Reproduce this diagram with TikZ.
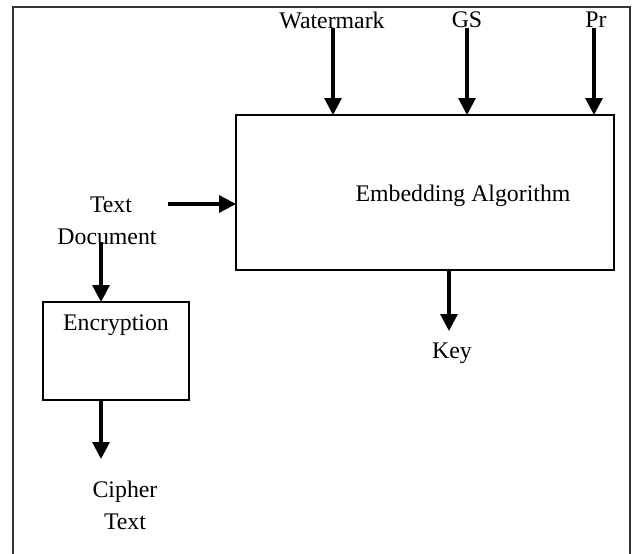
\documentclass[tikz,border=0pt]{standalone}
\usepackage{fontspec}
\setmainfont{Liberation Serif}
\usetikzlibrary{arrows.meta}
\begin{document}
\begin{tikzpicture}[x=1pt,y=-1pt,
  lbl/.style={font=\fontsize{23.8}{27}\selectfont, inner sep=0pt, align=center},
  boxst/.style={draw, line width=2pt},
  arr/.style={line width=3.2pt, -{Triangle[length=17pt,width=17pt]}, shorten >=-1pt}]
\useasboundingbox (0,0) rectangle (633,554);
\draw[line width=1.6pt, black!80] (13,554) -- (13,7) -- (630,7) -- (630,554);
% embedding box
\node[boxst, minimum width=378pt, minimum height=155pt, inner sep=0pt] (emb) at (425,192.5) {};
\node[lbl] (embt) at (463,196) {Embedding Algorithm};
% inputs
\node[lbl] (wm) at (332,20) {Watermark};
\node[lbl] (gs) at (467,20) {GS};
\node[lbl] (pr) at (596,20) {Pr};
\coordinate (wmS) at (333,28);
\coordinate (gsS) at (467,28);
\coordinate (prS) at (594,28);
\draw[arr] (wmS) -- (wmS |- emb.north);
\draw[arr] (gsS) -- (gsS |- emb.north);
\draw[arr] (prS) -- (prS |- emb.north);
% text document
\node[lbl] (tdA) at (111,205) {Text};
\node[lbl] (tdB) at (107,237) {Document};
\coordinate (tdR) at (168,204);
\draw[arr] (tdR) -- (tdR -| emb.west);
% key
\coordinate (keyS) at (449,270);
\coordinate (keyE) at (449,330);
\draw[arr] (keyS) -- (keyE);
\node[lbl] (key) at (452,353) {Key};
% encryption
\node[boxst, minimum width=146pt, minimum height=98pt, inner sep=0pt] (enc) at (116,351) {};
\node[lbl] (enct) at (116,325) {Encryption};
\coordinate (tdD) at (101,242);
\draw[arr] (tdD) -- (tdD |- enc.north);
\coordinate (encB) at (101,400);
\coordinate (ciE) at (101,458);
\draw[arr] (encB) -- (ciE);
\node[lbl] (ci) at (125,505) {Cipher\\[5pt]Text};
\end{tikzpicture}
\end{document}
